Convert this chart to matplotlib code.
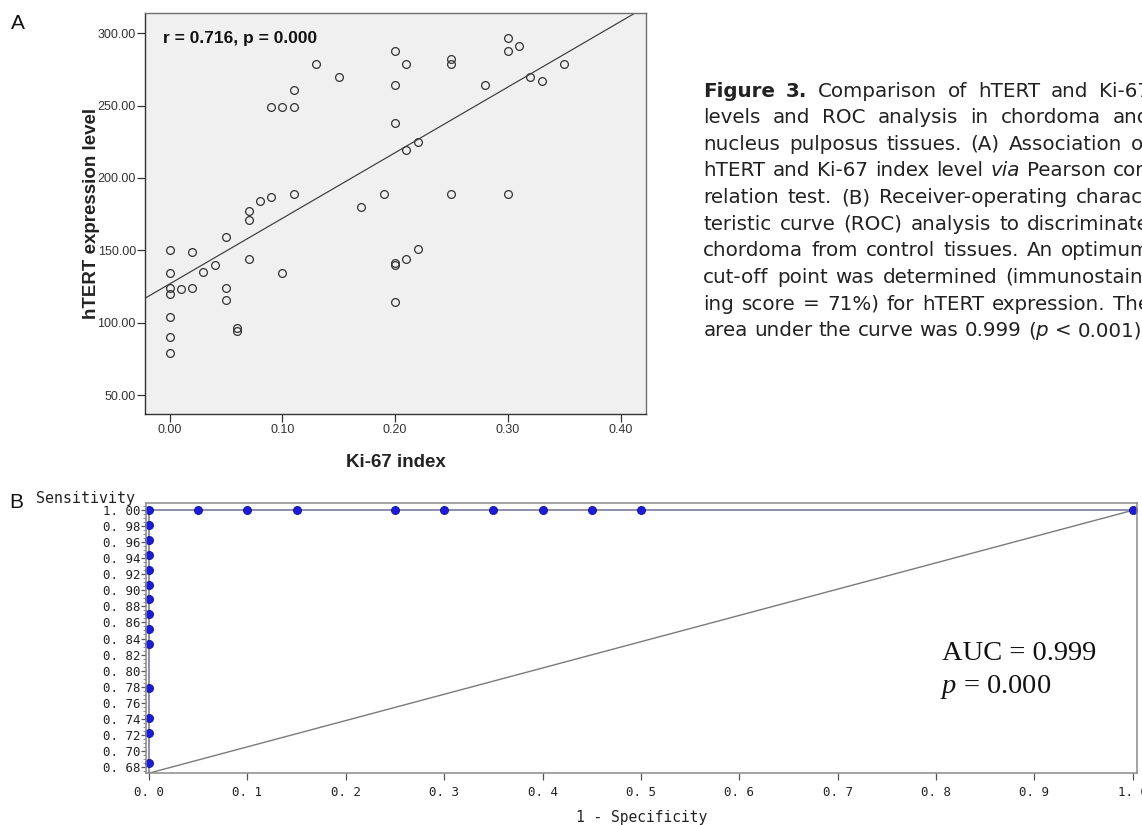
import re
import matplotlib
matplotlib.use("Agg")
import matplotlib.pyplot as plt
import numpy as np
from matplotlib.ticker import MultipleLocator

# ---------------- data: panel A (scatter) ----------------
ki67_index = [0.00, 0.00, 0.00, 0.00, 0.00, 0.00, 0.00, 0.01, 0.02, 0.02,
              0.03, 0.04, 0.05, 0.05, 0.05, 0.06, 0.06, 0.07, 0.07, 0.07,
              0.08, 0.09, 0.09, 0.10, 0.10, 0.11, 0.11, 0.11, 0.13, 0.15,
              0.17, 0.19, 0.20, 0.20, 0.20, 0.20, 0.20, 0.20, 0.21, 0.21,
              0.21, 0.22, 0.22, 0.25, 0.25, 0.25, 0.28, 0.30, 0.30, 0.30,
              0.31, 0.32, 0.33, 0.35]
htert_level = [150, 134, 124, 120, 104, 90, 79, 123, 149, 124,
               135, 140, 159, 124, 116, 96.5, 94, 177, 171, 144,
               184, 187, 249, 249, 134, 249, 261, 189, 279, 270,
               180, 189, 288, 264, 238, 141, 140, 114, 279, 219,
               144, 225, 151, 282, 279, 189, 264, 297, 288, 189,
               291, 270, 267, 279]
fit_intercept = 126.8
fit_slope = 453.3
a_xticks = [0.00, 0.10, 0.20, 0.30, 0.40]
a_yticks = [50, 100, 150, 200, 250, 300]
a_stat_text = "r = 0.716, p = 0.000"

# ---------------- data: panel B (ROC) ----------------
roc_fpr = [0.0] * 14 + [0.05, 0.10, 0.15, 0.25, 0.30, 0.35, 0.40, 0.45, 0.50, 1.00]
roc_tpr = [0.685, 0.722, 0.741, 0.778, 0.833, 0.852, 0.870, 0.889, 0.907,
           0.926, 0.944, 0.963, 0.981, 1.000] + [1.0] * 10
roc_start_fpr = [0.0]
roc_start_tpr = [0.0]
chance_x = [0.0, 1.0]
chance_y = [0.672, 1.0]
b_yticks = [0.68, 0.70, 0.72, 0.74, 0.76, 0.78, 0.80, 0.82, 0.84, 0.86,
            0.88, 0.90, 0.92, 0.94, 0.96, 0.98, 1.00]
b_xticks = [0.0, 0.1, 0.2, 0.3, 0.4, 0.5, 0.6, 0.7, 0.8, 0.9, 1.0]
auc_text = "AUC = 0.999"
p_text = "$p$ = 0.000"

caption_lines = [
    "*Figure* *3.* Comparison of hTERT and Ki-67",
    "levels and ROC analysis in chordoma and",
    "nucleus pulposus tissues. (A) Association of",
    "hTERT and Ki-67 index level _via_ Pearson cor-",
    "relation test. (B) Receiver-operating charac-",
    "teristic curve (ROC) analysis to discriminate",
    "chordoma from control tissues. An optimum",
    "cut-off point was determined (immunostain-",
    "ing score = 71%) for hTERT expression. The",
    "area under the curve was 0.999 (_p_ < 0.001).",
]

W, H = 1142, 825
plt.rcParams["mathtext.fontset"] = "custom"
plt.rcParams["mathtext.it"] = "Liberation Serif:italic"
plt.rcParams["mathtext.rm"] = "Liberation Serif"
fig = plt.figure(figsize=(W / 100, H / 100), dpi=100)
fig.patch.set_facecolor("white")


def px_rect(l, t, r, b):
    return [l / W, 1 - b / H, (r - l) / W, (b - t) / H]


# ---------------- Panel A ----------------
sans = ["Liberation Sans", "DejaVu Sans"]
axA = fig.add_axes(px_rect(145, 13, 646, 414))
axA.set_facecolor("#f0f0f0")
axA.plot(ki67_index, htert_level, ls="none", marker="o", ms=5.6, mfc="none",
         mec="#333333", mew=0.9)
axA.set_xlim(-0.0219, 0.4226)
axA.set_ylim(36.9, 314)
xs = np.array(axA.get_xlim())
axA.plot(xs, fit_intercept + fit_slope * xs, color="#3a3a3a", lw=0.85)
axA.set_xticks(a_xticks)
axA.set_xticklabels([f"{v:.2f}" for v in a_xticks])
axA.set_yticks(a_yticks)
axA.set_yticklabels([f"{v:.2f}" for v in a_yticks])
axA.tick_params(axis="y", length=5.8, width=0.9, pad=0.8, color="#333333",
                labelsize=9, labelcolor="#333333")
axA.tick_params(axis="x", length=5.5, width=0.9, pad=2.0, color="#333333",
                labelsize=9, labelcolor="#333333")
for lab in axA.get_xticklabels() + axA.get_yticklabels():
    lab.set_family(sans)
for side in ("left", "bottom"):
    axA.spines[side].set_color("#333333")
    axA.spines[side].set_linewidth(1.0)
for side in ("top", "right"):
    axA.spines[side].set_color("#707070")
    axA.spines[side].set_linewidth(1.0)
axA.text(0.036, 0.926, a_stat_text, transform=axA.transAxes, ha="left",
         va="baseline", fontsize=12.5, fontweight="bold", family=sans,
         color="#111111")
axA.text(-0.106, 0.5, "hTERT expression level", transform=axA.transAxes,
         rotation=90, ha="center", va="center", fontsize=13.5,
         fontweight="bold", family=sans, color="#222222")
axA.text(0.5, -0.1314, "Ki-67 index", transform=axA.transAxes, ha="center",
         va="baseline", fontsize=13.5, fontweight="bold", family=sans,
         color="#222222")
fig.text(11 / W, 1 - 29 / H, "A", fontsize=15, family=sans, ha="left",
         va="baseline", color="#111111")

# ---------------- Panel B ----------------
mono = ["DejaVu Sans Mono"]
axB = fig.add_axes(px_rect(146, 503.3, 1137.3, 773.3))
axB.set_facecolor("white")
axB.plot(chance_x, chance_y, color="#7a7a7a", lw=1.0)
axB.plot(roc_start_fpr + roc_fpr, roc_start_tpr + roc_tpr, color="#7a7a9c",
         lw=1.2, clip_on=True)
axB.plot(roc_fpr, roc_tpr, ls="none", marker="o", ms=5.8, mfc="#1c1cd6",
         mec="#10109a", mew=0.6, clip_on=False)
axB.set_xlim(-0.003, 1.0045)
axB.set_ylim(0.6718, 1.0087)
axB.set_yticks(b_yticks)
axB.set_yticklabels([f"{v:.2f}".replace(".", ". ") for v in b_yticks])
axB.yaxis.set_minor_locator(MultipleLocator(0.005))
axB.set_xticks(b_xticks)
axB.set_xticklabels([f"{v:.1f}".replace(".", ". ") for v in b_xticks])
axB.tick_params(axis="y", which="major", length=3.8, width=0.9, pad=0.5,
                color="#555555", labelsize=9, labelcolor="#222222")
axB.tick_params(axis="y", which="minor", length=2.2, width=0.6,
                color="#777777")
axB.tick_params(axis="x", which="major", length=5.0, width=0.9, pad=4.0,
                color="#555555", labelsize=9, labelcolor="#222222")
for lab in axB.get_xticklabels() + axB.get_yticklabels():
    lab.set_family(mono)
for side in axB.spines:
    axB.spines[side].set_color("#8a8a8a")
    axB.spines[side].set_linewidth(1.1)
axB.text(-0.011, 1.0196, "Sensitivity", transform=axB.transAxes, ha="right",
         va="center", fontsize=10.8, family=mono, color="#222222")
axB.text(0.5, -0.1655, "1 - Specificity", transform=axB.transAxes,
         ha="center", va="center", fontsize=10.5, family=mono,
         color="#222222")
serif = ["Liberation Serif", "DejaVu Serif"]
axB.text(0.803, 0.4196, auc_text, transform=axB.transAxes, ha="left",
         va="baseline", fontsize=20.5, family=serif, color="#111111")
axB.text(0.801, 0.297, p_text, transform=axB.transAxes, ha="left",
         va="baseline", fontsize=20.5, family=serif, color="#111111")
fig.text(9 / W, 1 - 508.3 / H, "B", fontsize=15, family=sans, ha="left",
         va="baseline", color="#111111")

# ---------------- Caption (justified, running past the right edge) ----------------
cap_size = 14.3
cap_family = ["DejaVu Sans"]
cap_left = 703.3
cap_right = 1150.0
cap_base0 = 96.7
cap_step = 26.6
renderer = fig.canvas.get_renderer()


def parse_word(w):
    segs = []
    for m in re.finditer(r"\*([^*]+)\*|_([^_]+)_|([^*_]+)", w):
        if m.group(1):
            segs.append((m.group(1), "bold", "normal"))
        elif m.group(2):
            segs.append((m.group(2), "normal", "italic"))
        else:
            segs.append((m.group(3), "normal", "normal"))
    return segs


def measure(txt, wt="normal", st="normal"):
    t = fig.text(0, 0, txt, fontsize=cap_size, fontweight=wt, fontstyle=st,
                 family=cap_family)
    w = t.get_window_extent(renderer).width
    t.remove()
    return w


space_w = measure("x x") - measure("xx")
for i, line in enumerate(caption_lines):
    words = [parse_word(w) for w in line.split(" ")]
    widths = [[measure(s, wt, st) for s, wt, st in segs] for segs in words]
    total = sum(sum(ws) for ws in widths)
    last = i == len(caption_lines) - 1
    gap = space_w if last else (cap_right - cap_left - total) / (len(words) - 1)
    x = cap_left
    yb = 1 - (cap_base0 + cap_step * i) / H
    for segs, ws in zip(words, widths):
        for (s, wt, st), wseg in zip(segs, ws):
            fig.text(x / W, yb, s, fontsize=cap_size, fontweight=wt,
                     fontstyle=st, family=cap_family, ha="left",
                     va="baseline", color="#222222")
            x += wseg
        x += gap

fig.savefig("out.png", dpi=100)
